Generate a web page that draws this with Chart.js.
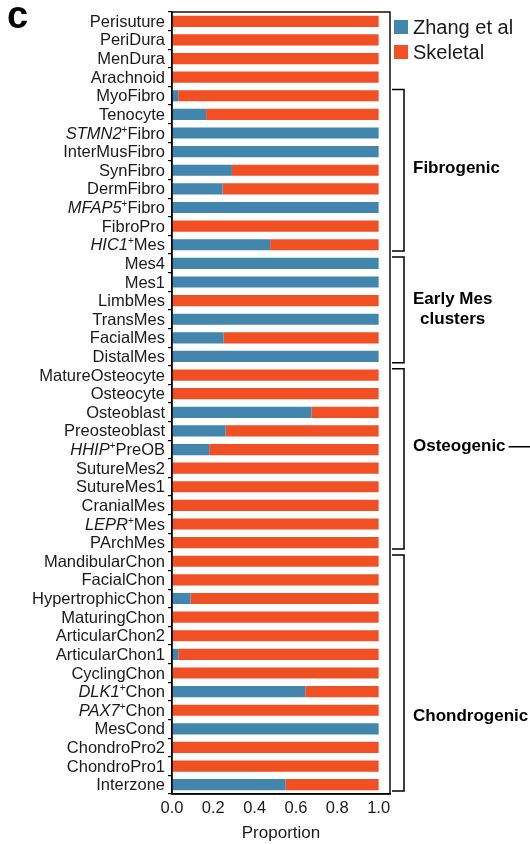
<!DOCTYPE html>
<html>
<head>
<meta charset="utf-8">
<script src="https://cdn.jsdelivr.net/npm/chart.js@4.4.1/dist/chart.umd.min.js"></script>
<style>
  html, body { margin: 0; padding: 0; background: #fff; }
  #wrap { width: 530px; height: 844px; position: relative; }
</style>
</head>
<body>
<div id="wrap"><canvas id="c" width="530" height="844"></canvas></div>
<script>
// Cell types, top to bottom
const cellTypes = [
  'Perisuture', 'PeriDura', 'MenDura', 'Arachnoid',
  'MyoFibro', 'Tenocyte', 'STMN2+Fibro', 'InterMusFibro', 'SynFibro', 'DermFibro',
  'MFAP5+Fibro', 'FibroPro', 'HIC1+Mes',
  'Mes4', 'Mes1', 'LimbMes', 'TransMes', 'FacialMes', 'DistalMes',
  'MatureOsteocyte', 'Osteocyte', 'Osteoblast', 'Preosteoblast', 'HHIP+PreOB',
  'SutureMes2', 'SutureMes1', 'CranialMes', 'LEPR+Mes', 'PArchMes',
  'MandibularChon', 'FacialChon', 'HypertrophicChon', 'MaturingChon', 'ArticularChon2',
  'ArticularChon1', 'CyclingChon', 'DLK1+Chon', 'PAX7+Chon', 'MesCond',
  'ChondroPro2', 'ChondroPro1', 'Interzone'
];

// Proportion of cells from each source
const zhangShare = [
  0, 0, 0, 0,
  0.03, 0.165, 1, 1, 0.29, 0.245,
  1, 0, 0.475,
  1, 1, 0, 1, 0.25, 1,
  0, 0, 0.675, 0.26, 0.18,
  0, 0, 0, 0, 0,
  0, 0, 0.09, 0, 0,
  0.03, 0, 0.645, 0, 1,
  0, 0, 0.55
];
const skeletalShare = [
  1, 1, 1, 1,
  0.97, 0.835, 0, 0, 0.71, 0.755,
  0, 1, 0.525,
  0, 0, 1, 0, 0.75, 0,
  1, 1, 0.325, 0.74, 0.82,
  1, 1, 1, 1, 1,
  1, 1, 0.91, 1, 1,
  0.97, 1, 0.355, 1, 0,
  1, 1, 0.45
];

const seriesNames = ['Zhang et al', 'Skeletal'];
const seriesColors = ['#4285ad', '#f05024'];
const xTicks = [0, 0.2, 0.4, 0.6, 0.8, 1.0];

// Lineage groups (index ranges into cellTypes)
const groupNames = [['Fibrogenic'], ['Early Mes', 'clusters'], ['Osteogenic'], ['Chondrogenic']];
const groupFirst = [4, 13, 19, 29];
const groupLast = [12, 18, 28, 41];

const FONT = '"Liberation Sans", Arial, Helvetica, sans-serif';
const INK = '#1a1a1a';

// where each group's label sits, as a category position
const groupLabelAt = [7.9, 15.45, 22.85, 37.35];

const decorations = {
  id: 'decorations',
  afterDraw(chart) {
    const ctx = chart.ctx;
    const area = chart.chartArea;
    const ys = chart.scales.y;
    const step = ys.getPixelForValue(1) - ys.getPixelForValue(0);
    ctx.save();

    // frame around the plot
    ctx.strokeStyle = '#000';
    ctx.lineWidth = 1.4;
    ctx.strokeRect(area.left, area.top, area.right - area.left, area.bottom - area.top);

    // panel letter
    ctx.fillStyle = '#000';
    ctx.font = 'bold 38px ' + FONT;
    ctx.textAlign = 'left';
    ctx.textBaseline = 'alphabetic';
    ctx.fillText('c', 7, 28);

    // category labels with italic gene names and superscript plus
    ctx.textBaseline = 'middle';
    const rx = area.left - 7;
    cellTypes.forEach((name, i) => {
      const y = ys.getPixelForValue(i);
      const m = name.match(/^([A-Z0-9]+)\+(.*)$/);
      ctx.fillStyle = INK;
      if (!m) {
        ctx.font = '16.5px ' + FONT;
        ctx.textAlign = 'right';
        ctx.fillText(name, rx, y + 1);
        return;
      }
      const regular = '16.5px ' + FONT;
      const italic = 'italic 16.5px ' + FONT;
      const sup = '10px ' + FONT;
      ctx.font = regular; const wRest = ctx.measureText(m[2]).width;
      ctx.font = sup; const wSup = ctx.measureText('+').width;
      ctx.font = italic; const wGene = ctx.measureText(m[1]).width;
      let x = rx - wRest - wSup - wGene;
      ctx.textAlign = 'left';
      ctx.font = italic; ctx.fillText(m[1], x, y + 1); x += wGene;
      ctx.font = sup; ctx.fillText('+', x, y - 3); x += wSup;
      ctx.font = regular; ctx.fillText(m[2], x, y + 1);
    });

    // legend
    const ds = chart.data.datasets;
    ctx.font = '20px ' + FONT;
    ctx.textAlign = 'left';
    ds.forEach((d, i) => {
      const cy = 27 + i * 25;
      ctx.fillStyle = d.backgroundColor;
      ctx.fillRect(area.right + 4, cy - 7, 14, 14);
      ctx.fillStyle = INK;
      ctx.fillText(d.label, area.right + 23, cy + 1);
    });

    // lineage brackets
    ctx.strokeStyle = '#000';
    ctx.lineWidth = 1.5;
    const bx0 = area.right + 2, bx1 = area.right + 14;
    groupNames.forEach((lines, g) => {
      const top = ys.getPixelForValue(groupFirst[g]) - step / 2 + 3;
      const bot = ys.getPixelForValue(groupLast[g]) + step / 2 - 3;
      ctx.beginPath();
      ctx.moveTo(bx0, top); ctx.lineTo(bx1, top); ctx.lineTo(bx1, bot); ctx.lineTo(bx0, bot);
      ctx.stroke();

      ctx.font = 'bold 17px ' + FONT;
      ctx.fillStyle = '#000';
      const ly = ys.getPixelForValue(groupLabelAt[g]);
      if (lines.length === 1) {
        ctx.textAlign = 'left';
        ctx.fillText(lines[0], area.right + 23, ly);
        if (lines[0] === 'Osteogenic') {
          const w = ctx.measureText(lines[0]).width;
          ctx.beginPath();
          ctx.moveTo(area.right + 23 + w + 3, ly);
          ctx.lineTo(530, ly);
          ctx.stroke();
        }
      } else {
        ctx.textAlign = 'center';
        const w = ctx.measureText(lines[0]).width;
        const cx = area.right + 23 + w / 2;
        lines.forEach((t, k) => ctx.fillText(t, cx, ly + (k - (lines.length - 1) / 2) * 20));
      }
    });
    ctx.restore();
  }
};

new Chart(document.getElementById('c'), {
  type: 'bar',
  data: {
    labels: cellTypes,
    datasets: [
      { label: seriesNames[0], data: zhangShare, backgroundColor: seriesColors[0] },
      { label: seriesNames[1], data: skeletalShare, backgroundColor: seriesColors[1] }
    ]
  },
  options: {
    indexAxis: 'y',
    responsive: false,
    animation: false,
    devicePixelRatio: 1,
    layout: { padding: { top: 12, right: 140, bottom: 0, left: 0 } },
    datasets: { bar: { categoryPercentage: 1, barPercentage: 0.6, borderWidth: 0 } },
    plugins: { legend: { display: false }, tooltip: { enabled: false } },
    scales: {
      x: {
        stacked: true,
        min: 0,
        max: 1.055,
        afterBuildTicks(scale) { scale.ticks = xTicks.map(v => ({ value: v })); },
        afterFit(scale) { scale.height = 50; },
        grid: { display: false, drawTicks: false },
        border: { display: true, color: '#000', width: 1.4 },
        ticks: {
          padding: 5,
          color: INK,
          font: { family: FONT, size: 16.5 },
          callback: v => Number(v).toFixed(1)
        },
        title: {
          display: true,
          text: 'Proportion',
          color: INK,
          font: { family: FONT, size: 17 },
          padding: { top: 4, bottom: 0 }
        }
      },
      y: {
        stacked: true,
        offset: true,
        afterFit(scale) { scale.width = 172; },
        grid: { display: true, drawOnChartArea: false, drawTicks: true, tickLength: 4, color: '#000', lineWidth: 1.2 },
        border: { display: true, color: '#000', width: 1.4 },
        ticks: { display: false }
      }
    }
  },
  plugins: [decorations]
});
</script>
</body>
</html>
